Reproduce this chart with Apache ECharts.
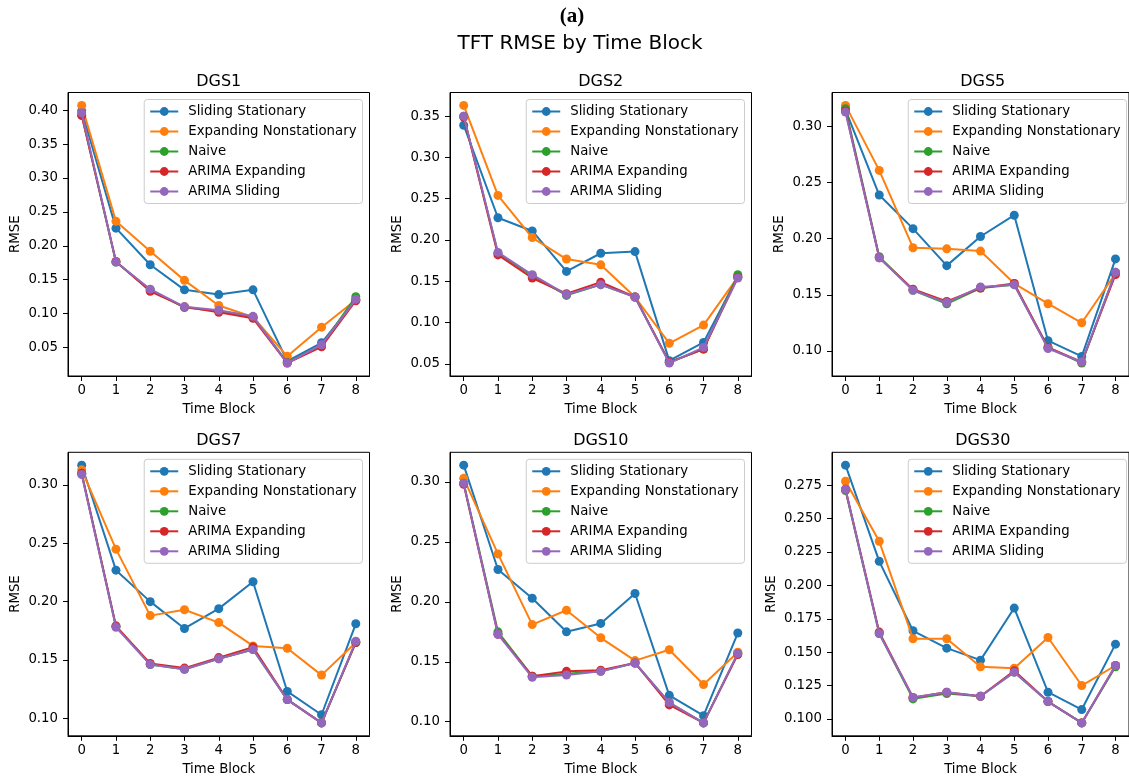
<!DOCTYPE html>
<html><head><meta charset="utf-8">
<script src="https://cdn.jsdelivr.net/npm/echarts@6/dist/echarts.min.js"></script>
<style>html,body{margin:0;padding:0;background:#fff}#c{width:1129px;height:782px}</style>
</head><body><div id="c"></div>
<script>
const blocks = [0, 1, 2, 3, 4, 5, 6, 7, 8];
const seriesNames = ['Sliding Stationary', 'Expanding Nonstationary', 'Naive', 'ARIMA Expanding', 'ARIMA Sliding'];
const seriesColors = ['#1f77b4', '#ff7f0e', '#2ca02c', '#d62728', '#9467bd'];
const panelTitles = ['DGS1', 'DGS2', 'DGS5', 'DGS7', 'DGS10', 'DGS30'];

// DGS1
const dgs1Sliding   = [0.399, 0.226, 0.172, 0.135, 0.128, 0.135, 0.030, 0.057, 0.120];
const dgs1Expanding = [0.407, 0.236, 0.192, 0.149, 0.112, 0.095, 0.037, 0.080, 0.120];
const dgs1Naive     = [0.393, 0.176, 0.135, 0.109, 0.104, 0.095, 0.028, 0.053, 0.125];
const dgs1ArimaExp  = [0.392, 0.177, 0.133, 0.110, 0.102, 0.093, 0.027, 0.051, 0.119];
const dgs1ArimaSld  = [0.396, 0.176, 0.136, 0.110, 0.105, 0.096, 0.027, 0.054, 0.121];
// DGS2
const dgs2Sliding   = [0.339, 0.227, 0.211, 0.162, 0.184, 0.186, 0.054, 0.076, 0.156];
const dgs2Expanding = [0.363, 0.254, 0.203, 0.177, 0.170, 0.131, 0.075, 0.097, 0.155];
const dgs2Naive     = [0.350, 0.184, 0.157, 0.133, 0.146, 0.131, 0.052, 0.068, 0.158];
const dgs2ArimaExp  = [0.349, 0.182, 0.154, 0.135, 0.149, 0.131, 0.052, 0.068, 0.155];
const dgs2ArimaSld  = [0.350, 0.185, 0.158, 0.134, 0.146, 0.131, 0.051, 0.070, 0.154];
// DGS5
const dgs5Sliding   = [0.315, 0.239, 0.209, 0.176, 0.202, 0.221, 0.109, 0.095, 0.182];
const dgs5Expanding = [0.319, 0.261, 0.192, 0.191, 0.189, 0.160, 0.142, 0.125, 0.169];
const dgs5Naive     = [0.316, 0.184, 0.154, 0.142, 0.156, 0.159, 0.103, 0.089, 0.170];
const dgs5ArimaExp  = [0.314, 0.183, 0.155, 0.144, 0.156, 0.160, 0.103, 0.090, 0.168];
const dgs5ArimaSld  = [0.313, 0.183, 0.154, 0.143, 0.157, 0.159, 0.102, 0.090, 0.170];
// DGS7
const dgs7Sliding   = [0.317, 0.227, 0.200, 0.177, 0.194, 0.217, 0.123, 0.103, 0.181];
const dgs7Expanding = [0.313, 0.245, 0.188, 0.193, 0.182, 0.162, 0.160, 0.137, 0.165];
const dgs7Naive     = [0.310, 0.179, 0.146, 0.142, 0.151, 0.159, 0.116, 0.096, 0.165];
const dgs7ArimaExp  = [0.310, 0.179, 0.147, 0.143, 0.152, 0.161, 0.116, 0.096, 0.165];
const dgs7ArimaSld  = [0.309, 0.178, 0.146, 0.142, 0.151, 0.159, 0.116, 0.096, 0.166];
// DGS10
const dgs10Sliding   = [0.314, 0.227, 0.203, 0.175, 0.182, 0.207, 0.122, 0.105, 0.174];
const dgs10Expanding = [0.303, 0.240, 0.181, 0.193, 0.170, 0.151, 0.160, 0.131, 0.158];
const dgs10Naive     = [0.299, 0.175, 0.138, 0.140, 0.142, 0.149, 0.116, 0.099, 0.157];
const dgs10ArimaExp  = [0.298, 0.173, 0.138, 0.142, 0.143, 0.149, 0.114, 0.099, 0.156];
const dgs10ArimaSld  = [0.299, 0.173, 0.137, 0.139, 0.142, 0.149, 0.116, 0.099, 0.157];
// DGS30
const dgs30Sliding   = [0.290, 0.218, 0.166, 0.153, 0.144, 0.183, 0.120, 0.107, 0.156];
const dgs30Expanding = [0.278, 0.233, 0.160, 0.160, 0.139, 0.138, 0.161, 0.125, 0.140];
const dgs30Naive     = [0.271, 0.164, 0.115, 0.119, 0.117, 0.135, 0.113, 0.097, 0.139];
const dgs30ArimaExp  = [0.272, 0.165, 0.116, 0.120, 0.117, 0.136, 0.113, 0.097, 0.140];
const dgs30ArimaSld  = [0.272, 0.164, 0.116, 0.120, 0.117, 0.135, 0.113, 0.097, 0.140];

// y tick labels
const dgs1Ticks  = [0.05, 0.10, 0.15, 0.20, 0.25, 0.30, 0.35, 0.40];
const dgs2Ticks  = [0.05, 0.10, 0.15, 0.20, 0.25, 0.30, 0.35];
const dgs5Ticks  = [0.10, 0.15, 0.20, 0.25, 0.30];
const dgs7Ticks  = [0.10, 0.15, 0.20, 0.25, 0.30];
const dgs10Ticks = [0.10, 0.15, 0.20, 0.25, 0.30];
const dgs30Ticks = [0.100, 0.125, 0.150, 0.175, 0.200, 0.225, 0.250, 0.275];
const tickDecimals = [2, 2, 2, 2, 2, 3];

const panelSeries = [
  [dgs1Sliding, dgs1Expanding, dgs1Naive, dgs1ArimaExp, dgs1ArimaSld],
  [dgs2Sliding, dgs2Expanding, dgs2Naive, dgs2ArimaExp, dgs2ArimaSld],
  [dgs5Sliding, dgs5Expanding, dgs5Naive, dgs5ArimaExp, dgs5ArimaSld],
  [dgs7Sliding, dgs7Expanding, dgs7Naive, dgs7ArimaExp, dgs7ArimaSld],
  [dgs10Sliding, dgs10Expanding, dgs10Naive, dgs10ArimaExp, dgs10ArimaSld],
  [dgs30Sliding, dgs30Expanding, dgs30Naive, dgs30ArimaExp, dgs30ArimaSld]
];
const panelTicks = [dgs1Ticks, dgs2Ticks, dgs5Ticks, dgs7Ticks, dgs10Ticks, dgs30Ticks];

// layout
const W = 1129;
const FONT = 'DejaVu Sans';
const FS = 13.3;
const colLefts = [68, 450, 832];
const rowTops = [92.5, 452.3];
const gridW = 301.5, gridH = 283.5;

const grids = [], xAxes = [], yAxes = [], series = [], legends = [];
const titles = [
  { text: '(a)', left: 572, top: 6, textAlign: 'center', padding: 0,
    textStyle: { fontFamily: 'Liberation Serif', fontWeight: 'bold', fontSize: 21, color: '#000' } },
  { text: 'TFT RMSE by Time Block', left: 580, top: 34, textAlign: 'center', padding: 0,
    textStyle: { fontFamily: FONT, fontWeight: 'normal', fontSize: 20, color: '#000' } }
];

panelTitles.forEach((name, p) => {
  const col = p % 3, row = Math.floor(p / 3);
  const left = colLefts[col], top = rowTops[row];
  grids.push({ left: left, top: top, width: gridW, height: gridH, show: true,
    borderColor: '#000', borderWidth: 1, backgroundColor: 'transparent' });
  titles.push({ text: name, left: left + gridW / 2, top: top - 19, textAlign: 'center', padding: 0,
    textStyle: { fontFamily: FONT, fontWeight: 'normal', fontSize: 16, color: '#000' } });

  const all = [].concat(...panelSeries[p]);
  const lo = Math.min(...all), hi = Math.max(...all);
  const pad = (hi - lo) * 0.05;
  const dec = tickDecimals[p];

  xAxes.push({ type: 'value', gridIndex: p, min: -0.4, max: 8.4,
    name: 'Time Block', nameLocation: 'middle', nameGap: 27,
    nameTextStyle: { fontFamily: FONT, fontSize: FS, color: '#000' },
    axisLine: { show: true, onZero: false, lineStyle: { color: '#000', width: 1 } },
    axisTick: { show: true, length: 5, customValues: blocks, lineStyle: { color: '#000', width: 1 } },
    axisLabel: { customValues: blocks, margin: 8, fontFamily: FONT, fontSize: FS, color: '#000',
      formatter: v => String(Math.round(v)) },
    splitLine: { show: false } });

  yAxes.push({ type: 'value', gridIndex: p, min: lo - pad, max: hi + pad,
    name: 'RMSE', nameLocation: 'middle', nameGap: dec === 3 ? 54 : 46,
    nameTextStyle: { fontFamily: FONT, fontSize: FS, color: '#000' },
    axisLine: { show: true, onZero: false, lineStyle: { color: '#000', width: 1 } },
    axisTick: { show: true, length: 5, customValues: panelTicks[p], lineStyle: { color: '#000', width: 1 } },
    axisLabel: { customValues: panelTicks[p], margin: 10, fontFamily: FONT, fontSize: FS, color: '#000',
      formatter: v => v.toFixed(dec) },
    splitLine: { show: false } });

  panelSeries[p].forEach((vals, s) => {
    series.push({ type: 'line', name: seriesNames[s], xAxisIndex: p, yAxisIndex: p,
      data: blocks.map((b, j) => [b, vals[j]]),
      symbol: 'circle', symbolSize: 9, showSymbol: true,
      lineStyle: { width: 2, color: seriesColors[s] },
      itemStyle: { color: seriesColors[s] },
      emphasis: { disabled: true }, z: 2 + s });
  });

  legends.push({ orient: 'vertical', right: W - (left + gridW - 7), top: top + 7,
    data: seriesNames, selectedMode: false,
    itemWidth: 28, itemHeight: 11, itemGap: 6, padding: [5, 6, 5, 5],
    backgroundColor: 'rgba(255,255,255,0.8)', borderColor: '#cccccc', borderWidth: 1, borderRadius: 3,
    textStyle: { fontFamily: FONT, fontSize: FS, color: '#000', lineHeight: 14, padding: [0, 0, 0, 5] } });
});

const chart = echarts.init(document.getElementById('c'), null, { renderer: 'canvas' });
chart.setOption({
  animation: false,
  backgroundColor: '#fff',
  color: seriesColors,
  title: titles,
  grid: grids,
  xAxis: xAxes,
  yAxis: yAxes,
  legend: legends,
  tooltip: { show: false },
  series: series
});
</script>
</body></html>
